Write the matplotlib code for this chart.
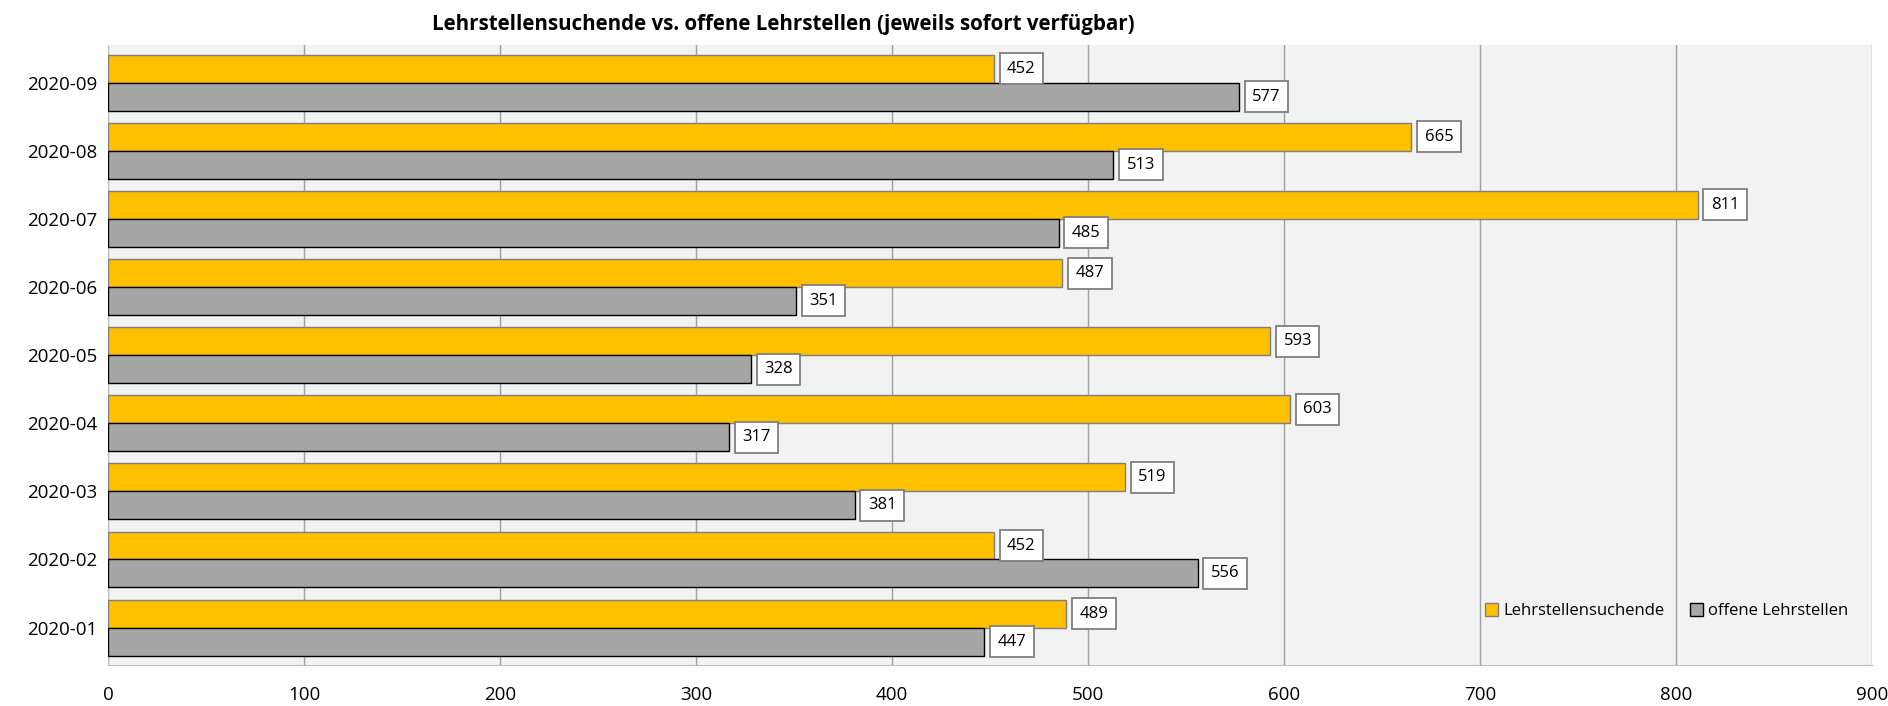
import matplotlib.pyplot as plt
import numpy as np

plt.rcParams['font.family'] = ['Open Sans', 'DejaVu Sans']

monate = ["2020-01", "2020-02", "2020-03", "2020-04", "2020-05",
          "2020-06", "2020-07", "2020-08", "2020-09"]
suchende = [489, 452, 519, 603, 593, 487, 811, 665, 452]
offene = [447, 556, 381, 317, 328, 351, 485, 513, 577]

fig = plt.figure(figsize=(18.88, 7.06), dpi=100)
ax = fig.add_axes([0.0572, 0.058, 0.9343, 0.878])
ax.set_facecolor('#f2f2f2')

y = np.arange(len(monate))
h = 0.41
b1 = ax.barh(y + h / 2, suchende, height=h, color='#ffc000', edgecolor='#7f7f7f',
             linewidth=1, label='Lehrstellensuchende', zorder=3)
b2 = ax.barh(y - h / 2, offene, height=h, color='#a6a6a6', edgecolor='black',
             linewidth=1, label='offene Lehrstellen', zorder=3)

box = dict(boxstyle='square,pad=0.45', facecolor='white', edgecolor='#7f7f7f', linewidth=1.3)
for bars in (b1, b2):
    for rect in bars:
        w = rect.get_width()
        ax.annotate(str(int(w)), (w, rect.get_y() + rect.get_height() / 2),
                    xytext=(9.5, 0), textcoords='offset points', ha='left', va='center',
                    fontsize=12, bbox=box, zorder=5)

ax.set_xlim(0, 900)
ax.set_ylim(-0.55, len(monate) - 0.45)
ax.set_xticks(range(0, 901, 100))
ax.set_yticks(y)
ax.set_yticklabels(monate)
ax.tick_params(axis='both', length=0, labelsize=13.5)
ax.tick_params(axis='x', pad=15)
ax.tick_params(axis='y', pad=8)
ax.grid(axis='x', color='#a0a0a0', linewidth=1, zorder=0)
for s in ax.spines.values():
    s.set_visible(False)
ax.spines['bottom'].set_visible(True)
ax.spines['bottom'].set_color('#bfbfbf')
ax.spines['left'].set_visible(True)
ax.spines['left'].set_color('#bfbfbf')

fig.text(0.415, 0.966, 'Lehrstellensuchende vs. offene Lehrstellen (jeweils sofort verfügbar)',
         ha='center', va='center', fontsize=14.8, fontweight='bold')

ax.legend(loc='lower right', bbox_to_anchor=(0.995, 0.05), ncol=2, frameon=False,
          fontsize=12, handlelength=0.8, handleheight=0.8, handletextpad=0.3,
          columnspacing=1.5)

fig.savefig('out.png', dpi=100)
